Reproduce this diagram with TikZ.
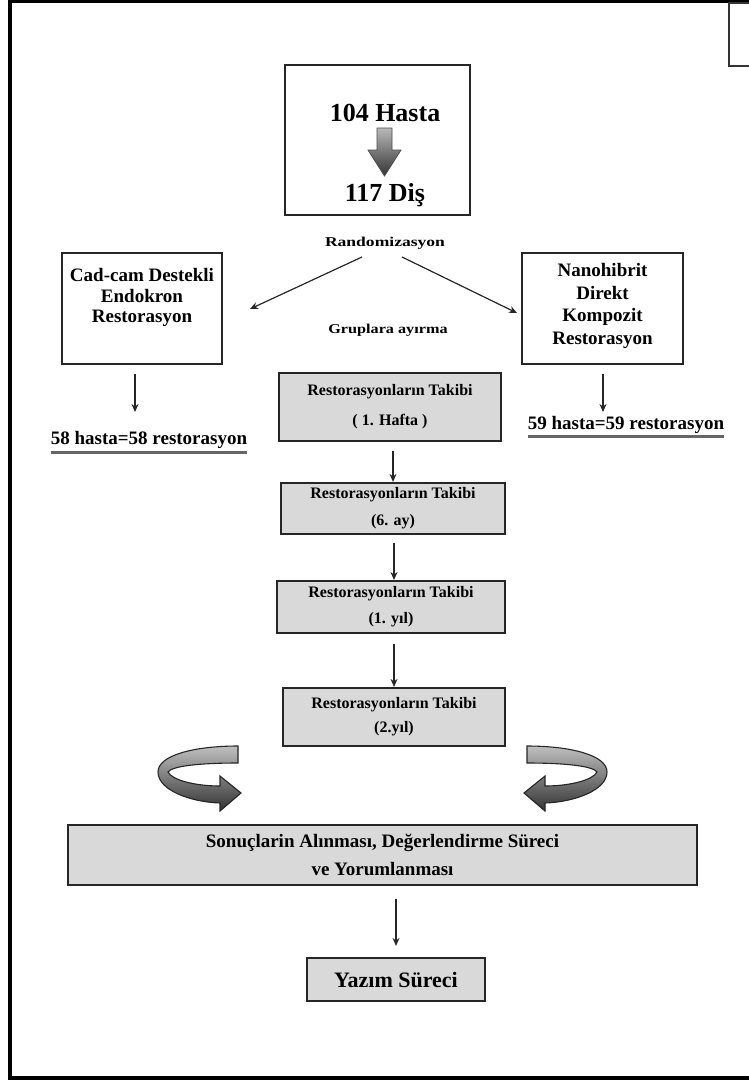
\documentclass[tikz,border=0pt]{standalone}
\usepackage{fontspec}
\usepackage{graphicx}
\setmainfont{Liberation Serif}
\usetikzlibrary{arrows.meta,calc}
\tikzset{
  whitebox/.style={draw=black!85, line width=2.2pt, fill=white, inner sep=0pt},
  graybox/.style={draw=black!85, line width=2.2pt, fill=gray!30, inner sep=0pt, align=center},
  boxtxt/.style={font=\bfseries\fontsize{16}{#1}\selectfont},
  sidetxt/.style={align=center, inner sep=0pt, font=\bfseries\fontsize{19}{#1}\selectfont},
  bigtxt/.style={inner sep=0pt, font=\bfseries\fontsize{26}{26}\selectfont},
  smalltxt/.style={inner sep=0pt, font=\bfseries\fontsize{13.5}{14}\selectfont},
  cnttxt/.style={inner sep=0pt, font=\bfseries\fontsize{19}{19}\selectfont},
  arr/.style={-{Stealth[length=8pt,width=7pt]}, line width=1.3pt, black!85},
  ulin/.style={line width=2.5pt, black!60},
  ribbon/.style={draw=black!85, line width=1.1pt, top color=gray!50, bottom color=black!80},
  bigarrow/.style={draw=black!70, line width=0.8pt, top color=gray!55, bottom color=black!80}
}
\begin{document}
\begin{tikzpicture}[x=1pt,y=-1pt]
\useasboundingbox (0,0) rectangle (748,1081);
% frame and corner box
\draw[line width=4pt] (10,1.5) rectangle (770,1078);
\draw[line width=2pt, black!80] (729,3) rectangle (780,66);

% top box
\node[whitebox, minimum width=185pt, minimum height=150pt] (top) at (377.5,140) {};
\node[bigtxt] (hasta) at (385,113) {104 Hasta};
\node[bigtxt] (dis) at (385,195) {117 Diş};
\path[bigarrow] (377,128) -- (392,128) -- (392,150) -- (401,150) -- (384.5,176) -- (368,150) -- (377,150) -- cycle;

\node[smalltxt] (rand) at (385,243) {\scalebox{1.3}[1]{Randomizasyon}};

% side boxes
\node[whitebox, minimum width=160pt, minimum height=111pt] (lbox) at (142,308.5) {};
\node[sidetxt=20.5] (ltxt) at (142,297.5) {Cad-cam Destekli\\Endokron\\Restorasyon};
\node[whitebox, minimum width=161pt, minimum height=111pt] (rbox) at (602.5,308.5) {};
\node[sidetxt=22.7] (rtxt) at (602.5,306) {Nanohibrit\\Direkt\\Kompozit\\Restorasyon};

\coordinate (dl0) at (362,257);
\coordinate (dl1) at (250,309);
\coordinate (dr0) at (402,257);
\coordinate (dr1) at (517,313);
\draw[arr, line width=1.2pt] (dl0) -- (dl1);
\draw[arr, line width=1.2pt] (dr0) -- (dr1);

\node[smalltxt] (grup) at (388,330) {\scalebox{1.2}[1]{Gruplara ayırma}};

% counts
\node[cnttxt] (n58) at (149,440) {58 hasta=58 restorasyon};
\node[cnttxt] (n59) at (626,425) {59 hasta=59 restorasyon};
\draw[ulin] ([yshift=-8pt]n58.base west) -- ([yshift=-8pt]n58.base east);
\draw[ulin] ([yshift=-7pt]n59.base west) -- ([yshift=-7pt]n59.base east);
\coordinate (la) at (135,412);
\coordinate (ra) at (603,412);
\draw[arr, shorten <=9pt] (lbox.south -| la) -- (la);
\draw[arr, shorten <=9pt] (rbox.south -| ra) -- (ra);

% follow-up boxes
\node[graybox, boxtxt=30, minimum width=222pt, minimum height=68pt] (b1) at (390,407) {Restorasyonların Takibi\\( 1. Hafta )};
\node[graybox, boxtxt=27, minimum width=224pt, minimum height=51pt] (b2) at (393,508.5) {Restorasyonların Takibi\\(6. ay)};
\node[graybox, boxtxt=26, minimum width=228pt, minimum height=52pt] (b3) at (391,607) {Restorasyonların Takibi\\(1. yıl)};
\node[graybox, boxtxt=24, minimum width=222pt, minimum height=58pt] (b4) at (394,717) {Restorasyonların Takibi\\(2.yıl)};
\coordinate (a23) at (394,580);
\draw[arr, shorten <=9pt] (b1.south -| b2.north) -- (b2.north);
\draw[arr, shorten <=8pt] (b2.south -| a23) -- (a23);
\draw[arr, shorten <=10pt] (b3.south -| b4.north) -- (b4.north);

% curved ribbon arrows
\path[ribbon] (238,746) .. controls (195,746) and (158,755) .. (158,772)
  .. controls (158,790) and (190,802) .. (220,803)
  -- (220,811) -- (241,793) -- (220,776) -- (220,786)
  .. controls (195,786) and (172,780) .. (168,772)
  .. controls (172,766) and (200,763) .. (238,763) -- cycle;
\begin{scope}[xshift=765pt, xscale=-1]
\path[ribbon] (238,746) .. controls (195,746) and (158,755) .. (158,772)
  .. controls (158,790) and (190,802) .. (220,803)
  -- (220,811) -- (241,793) -- (220,776) -- (220,786)
  .. controls (195,786) and (172,780) .. (168,772)
  .. controls (172,766) and (200,763) .. (238,763) -- cycle;
\end{scope}

% results
\node[graybox, minimum width=629pt, minimum height=60pt, font=\bfseries\fontsize{19}{28}\selectfont] (bb) at (382.5,855) {Sonuçlarin Alınması, Değerlendirme Süreci\\ve Yorumlanması};
\node[graybox, minimum width=178pt, minimum height=43pt, font=\bfseries\fontsize{22}{22}\selectfont] (yz) at (396,979.5) {Yazım Süreci};
\draw[arr, shorten <=13pt, shorten >=11pt] (bb.south -| yz.north) -- (yz.north);
\end{tikzpicture}
\end{document}
